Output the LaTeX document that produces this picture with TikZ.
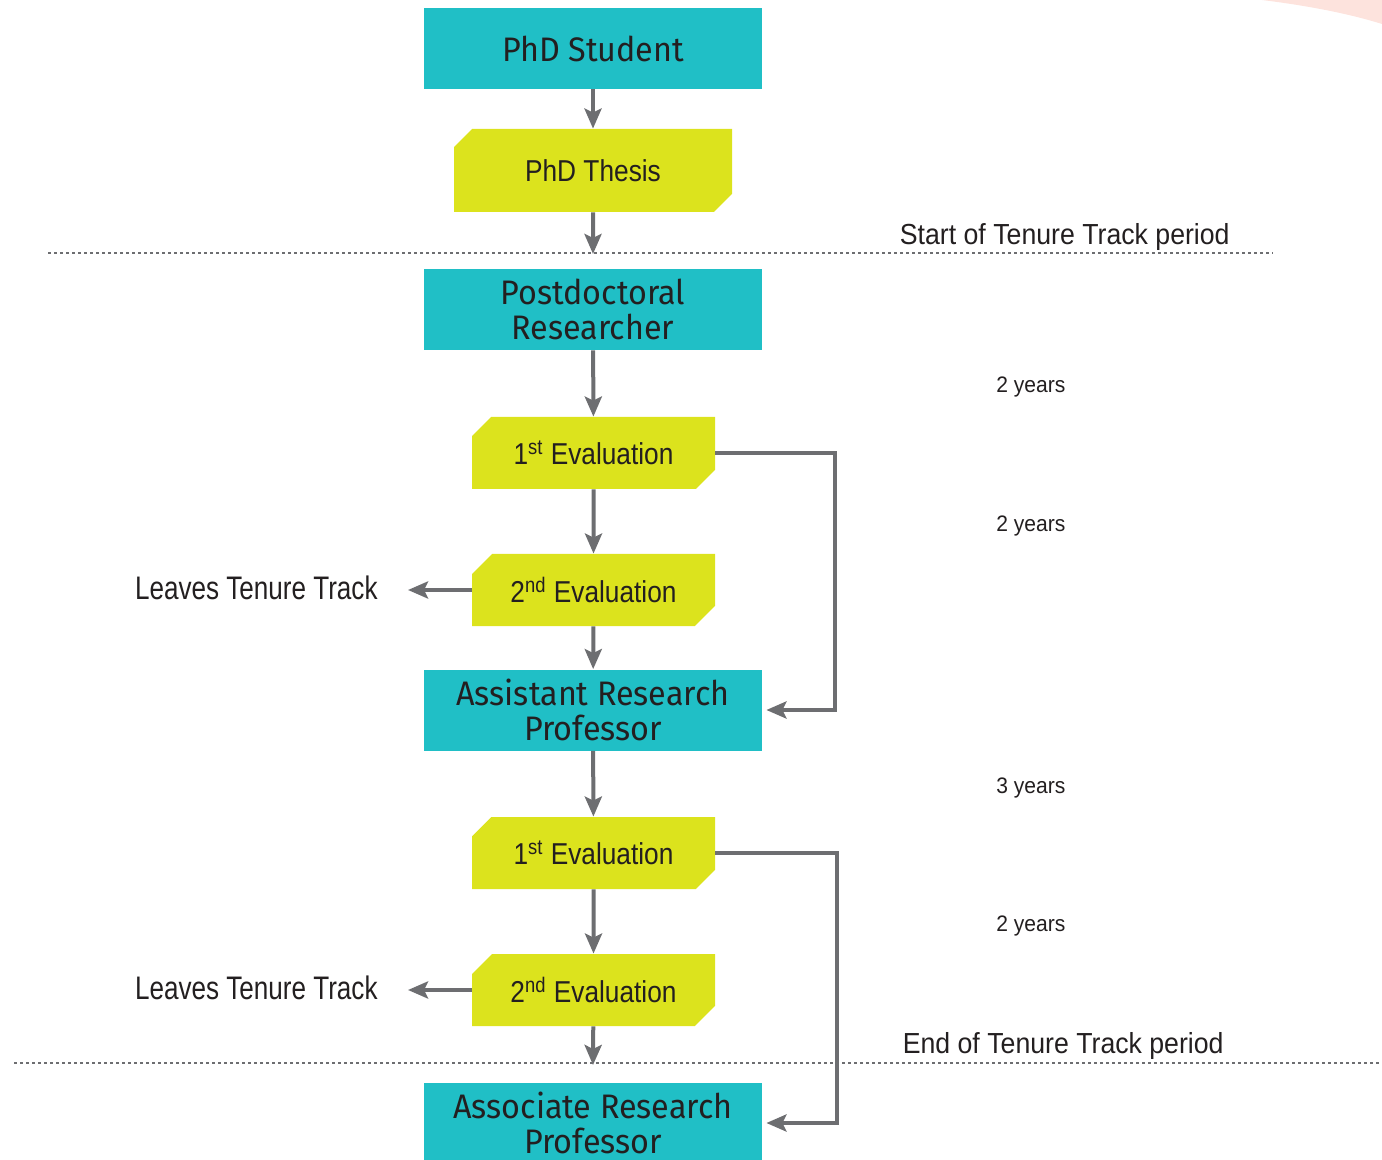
\documentclass[tikz,border=0pt]{standalone}
\usepackage{fontspec}
\setmainfont{Liberation Sans}
\newfontfamily\boxfont[FakeStretch=0.95]{Fira Sans}
\newfontfamily\evalfont[FakeStretch=0.87]{Liberation Sans}
\newfontfamily\leavefont[FakeStretch=0.8]{Liberation Sans}
\newfontfamily\periodfont[FakeStretch=0.92]{Liberation Sans}
\newfontfamily\yrsfont[FakeStretch=0.94]{Liberation Sans}
\usetikzlibrary{arrows.meta,shapes.misc}
\definecolor{tealbox}{HTML}{20BFC6}
\definecolor{yelbox}{HTML}{DCE31D}
\definecolor{linkgray}{HTML}{6D6E71}
\definecolor{txtdark}{HTML}{231F20}
\definecolor{pinkcorner}{HTML}{FDE3DD}

\begin{document}
\begin{tikzpicture}[x=0.5pt,y=-0.5pt,
  rolebox/.style={fill=tealbox,minimum width=169pt,minimum height=40.5pt,inner sep=0pt,align=center,
    text=txtdark,font=\boxfont\fontsize{17}{17.5}\selectfont},
  evalbox/.style={chamfered rectangle,chamfered rectangle corners={north west,south east},
    chamfered rectangle xsep=8pt,chamfered rectangle angle=45,fill=yelbox,inner sep=0pt,
    minimum width=121.5pt,minimum height=36pt,text=txtdark,font=\evalfont\fontsize{15.1}{18}\selectfont},
  link/.style={draw=linkgray,line width=2pt,-{Stealth[length=10pt,width=8.5pt,inset=2pt]}},
  period/.style={draw=linkgray,line width=1.4pt,dash pattern=on 1.4pt off 1.6pt},
  leave/.style={text=txtdark,inner sep=0pt,font=\leavefont\fontsize{16.3}{18}\selectfont},
  pertext/.style={text=txtdark,inner sep=0pt,font=\periodfont\fontsize{14.5}{18}\selectfont},
  yrs/.style={text=txtdark,inner sep=0pt,font=\yrsfont\fontsize{11.2}{13}\selectfont}]
\useasboundingbox (0,0) rectangle (1382,1160);
\fill[pinkcorner] (1262,0) .. controls (1310,6) and (1350,14) .. (1382,24) -- (1382,0) -- cycle;

\node[rolebox] (phd) at (593,48.5) {PhD Student};
\node[evalbox,minimum width=139pt,minimum height=41.5pt] (thesis) at (593,170.5) {PhD Thesis};
\node[rolebox] (postdoc) at (593,309.5) {Postdoctoral\\Researcher};
\node[evalbox] (evalA) at (593.5,453) {1\textsuperscript{st} Evaluation};
\node[evalbox] (evalB) at (593.5,590) {2\textsuperscript{nd} Evaluation};
\node[rolebox] (assist) at (593,710) {Assistant Research\\Professor};
\node[evalbox] (evalC) at (593.5,853) {1\textsuperscript{st} Evaluation};
\node[evalbox] (evalD) at (593.5,990) {2\textsuperscript{nd} Evaluation};
\node[rolebox] (assoc) at (593,1123) {Associate Research\\Professor};

\node[leave,anchor=east] (leaveB) at (378,588) {Leaves Tenure Track};
\node[leave,anchor=east] (leaveD) at (378,988) {Leaves Tenure Track};

\coordinate (startL) at (48,253);
\coordinate (startR) at (1273,253);
\coordinate (endL) at (14,1063);
\coordinate (endR) at (1382,1063);
\coordinate (startM) at (593,254);
\coordinate (endM) at (593,1065);
\draw[period] (startL) -- (startR);
\draw[period] (endL) -- (endR);
\node[pertext,anchor=base east] (start) at (1230,245) {Start of Tenure Track period};
\node[pertext,anchor=base east] (end) at (1224,1053) {End of Tenure Track period};

\node[yrs,anchor=base west] (yA) at (996,393) {2 years};
\node[yrs,anchor=base west] (yB) at (996,531) {2 years};
\node[yrs,anchor=base west] (yC) at (996,793) {3 years};
\node[yrs,anchor=base west] (yD) at (996,931) {2 years};

\draw[link] (phd) -- (thesis);
\draw[link] (thesis) -- (startM);
\draw[link] (postdoc) -- (evalA);
\draw[link] (evalA) -- (evalB);
\draw[link] (evalB) -- (assist);
\draw[link] (assist) -- (evalC);
\draw[link] (evalC) -- (evalD);
\draw[link] (evalD) -- (endM);
\draw[link,shorten >=15pt] (evalB.west) -- (leaveB.east |- evalB.west);
\draw[link,shorten >=15pt] (evalD.west) -- (leaveD.east |- evalD.west);
\draw[link,shorten >=2pt] (evalA.east) -- ++(120,0) |- (assist.east);
\draw[link,shorten >=2pt] (evalC.east) -- ++(122,0) |- (assoc.east);
\end{tikzpicture}
\end{document}
